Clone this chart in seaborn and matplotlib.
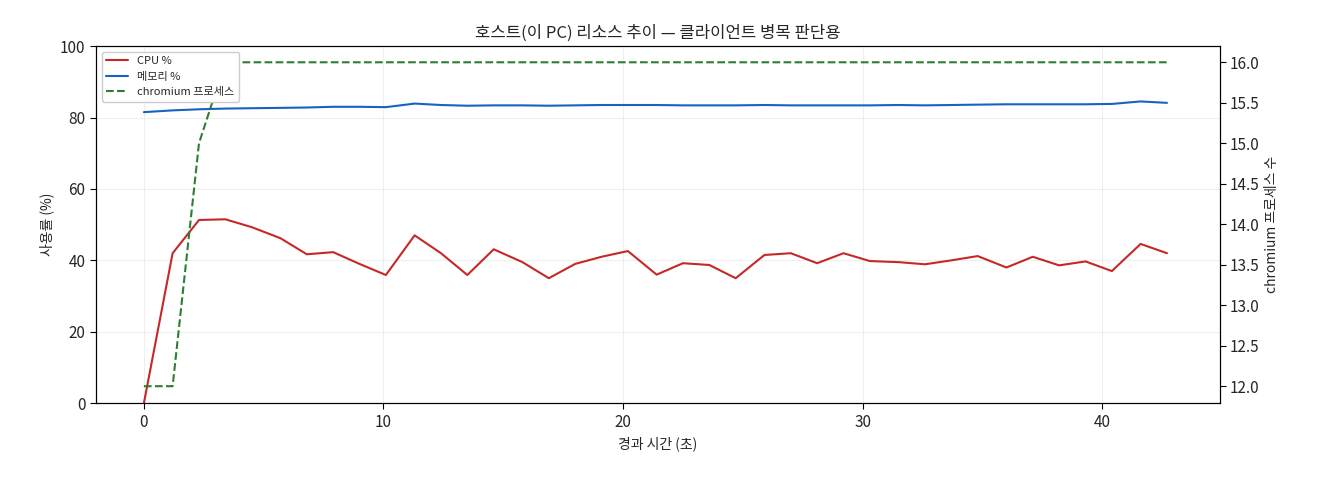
import numpy as np
import matplotlib
matplotlib.use('Agg')
import matplotlib.pyplot as plt
import seaborn as sns

sns.set_style('white')
plt.rcParams['font.family'] = ['Noto Sans CJK KR', 'DejaVu Sans']

elapsed = [0.0, 1.2, 2.3, 3.4, 4.5, 5.7, 6.8, 7.9, 9.0, 10.1, 11.3, 12.4, 13.5,
           14.6, 15.8, 16.9, 18.0, 19.1, 20.2, 21.4, 22.5, 23.6, 24.7, 25.9,
           27.0, 28.1, 29.2, 30.3, 31.5, 32.6, 33.7, 34.8, 36.0, 37.1, 38.2,
           39.3, 40.4, 41.6, 42.7]
cpu = [0, 42, 51.3, 51.5, 49.3, 46.2, 41.7, 42.3, 39, 35.9, 47, 42, 35.9,
       43.1, 39.5, 35, 39, 41, 42.6, 36, 39.2, 38.7, 35, 41.5, 42, 39.2, 42,
       39.8, 39.5, 38.9, 40, 41.2, 38, 41, 38.6, 39.7, 37, 44.6, 42]
mem = [81.5, 82, 82.3, 82.5, 82.6, 82.7, 82.8, 83, 83, 82.9, 83.9, 83.5, 83.3,
       83.4, 83.4, 83.3, 83.4, 83.5, 83.5, 83.5, 83.4, 83.4, 83.4, 83.5, 83.4,
       83.4, 83.4, 83.4, 83.5, 83.4, 83.5, 83.6, 83.7, 83.7, 83.7, 83.7, 83.8,
       84.5, 84.1]
chromium = [12, 12, 15, 16, 16, 16, 16, 16, 16, 16, 16, 16, 16, 16, 16, 16, 16,
            16, 16, 16, 16, 16, 16, 16, 16, 16, 16, 16, 16, 16, 16, 16, 16, 16,
            16, 16, 16, 16, 16]

fig, ax = plt.subplots(figsize=(13.2, 4.8), dpi=100)
fig.subplots_adjust(left=0.0727, right=0.924, top=0.904, bottom=0.160)
sns.lineplot(x=elapsed, y=cpu, ax=ax, color='#c62828', label='CPU %', linewidth=1.5)
sns.lineplot(x=elapsed, y=mem, ax=ax, color='#1565c0', label='메모리 %', linewidth=1.5)
ax.set_ylim(0, 100)
ax.set_xlim(-2, 44.9)
ax.set_xlabel('경과 시간 (초)')
ax.set_ylabel('사용률 (%)')
ax.grid(True, alpha=0.3)
ax.set_title('호스트(이 PC) 리소스 추이 — 클라이언트 병목 판단용', fontsize=12)

ax2 = ax.twinx()
sns.lineplot(x=elapsed, y=chromium, ax=ax2, color='#2e7d32', linestyle='--',
             label='chromium 프로세스', linewidth=1.5)
ax2.set_ylim(11.79, 16.2)
ax2.set_ylabel('chromium 프로세스 수')
ax2.set_yticks(np.arange(12, 16.01, 0.5))

h1, l1 = ax.get_legend_handles_labels()
h2, l2 = ax2.get_legend_handles_labels()
ax2.get_legend().remove()
ax.get_legend().remove()
ax2.legend(h1 + h2, l1 + l2, loc='upper left', fontsize=8, framealpha=1)

for a in (ax, ax2):
    for s in a.spines.values():
        s.set_color('black')
    a.tick_params(axis='both', labelsize=11, length=4, color='black', left=a is ax, right=a is ax2, bottom=True)

plt.savefig('out.png')
